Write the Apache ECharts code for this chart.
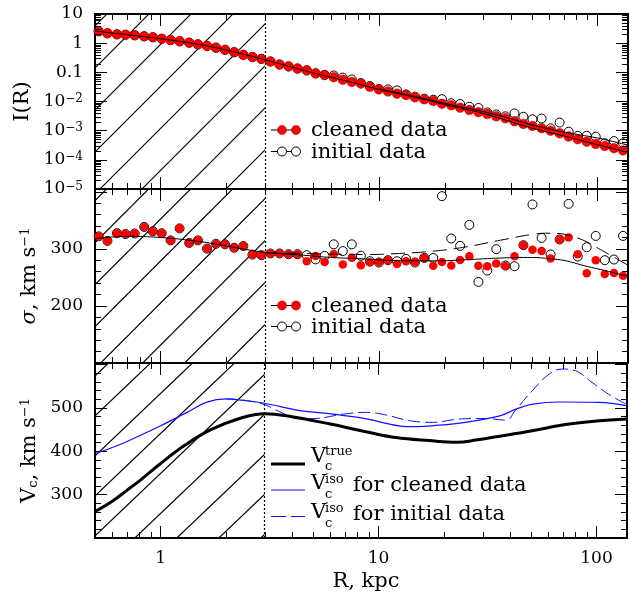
<!DOCTYPE html>
<html>
<head>
<meta charset="utf-8">
<script src="https://cdn.jsdelivr.net/npm/echarts@6/dist/echarts.min.js"></script>
<style>
  html, body { margin: 0; background: #fff; }
  #chart { width: 630px; height: 596px; }
</style>
</head>
<body>
<div id="chart"></div>
<script>
// radii of the profile bins, kpc (same bins in both data panels)
const binR = [0.52, 0.57, 0.63, 0.69, 0.76, 0.84, 0.92, 1.01, 1.11, 1.22,
  1.35, 1.48, 1.63, 1.79, 1.97, 2.17, 2.39, 2.63, 2.89, 3.18,
  3.50, 3.85, 4.23, 4.66, 5.12, 5.63, 6.20, 6.82, 7.50, 8.25,
  9.07, 9.98, 10.98, 12.08, 13.29, 14.6, 16.1, 17.7, 19.4, 21.4,
  23.5, 25.9, 28.5, 31.3, 34.4, 37.9, 41.7, 45.8, 50.4, 55.5,
  61.0, 67.1, 73.8, 81.2, 89.3, 98.2, 108, 119, 131];

// surface brightness I(R)
const iClean = [2.55, 2.18, 2.01, 1.95, 1.86, 1.72, 1.59, 1.42, 1.28, 1.16,
  1.04, 0.91, 0.80, 0.70, 0.59, 0.49, 0.40, 0.335, 0.29, 0.235,
  0.185, 0.16, 0.135, 0.117, 0.092, 0.081, 0.068, 0.056, 0.047, 0.041,
  0.032, 0.026, 0.022, 0.0185, 0.0167, 0.0139, 0.0119, 0.0104, 0.0084, 0.0074,
  0.0061, 0.0051, 0.0043, 0.0037, 0.0031, 0.00265, 0.0021, 0.0017, 0.00145, 0.00121,
  0.0010, 0.00081, 0.00063, 0.00051, 0.00042, 0.00035, 0.00030, 0.00025, 0.00021];
const iInit = [2.55, 2.18, 2.01, 1.95, 1.86, 1.72, 1.59, 1.42, 1.28, 1.16,
  1.04, 0.91, 0.80, 0.70, 0.59, 0.49, 0.40, 0.335, 0.29, 0.235,
  0.185, 0.16, 0.135, 0.117, 0.092, 0.081, 0.078, 0.066, 0.057, 0.043,
  0.034, 0.027, 0.026, 0.024, 0.0175, 0.0146, 0.0125, 0.0115, 0.0120, 0.0087,
  0.0082, 0.0066, 0.0060, 0.0042, 0.0036, 0.0031, 0.0039, 0.0030, 0.00245, 0.0026,
  0.0012, 0.0019, 0.00092, 0.00066, 0.00067, 0.00062, 0.00037, 0.00044, 0.00037];
const iFitCleanR = [0.5, 0.7, 1, 1.5, 2, 3, 4, 5, 7, 10, 15, 20, 30, 50, 70, 100, 138];
const iFitClean = [2.6, 1.95, 1.42, 0.9, 0.58, 0.27, 0.15, 0.095, 0.052, 0.026, 0.0135, 0.0078, 0.0039, 0.00123, 0.00066, 0.00033, 0.00018];
const iFitInitR = [10, 15, 20, 30, 40, 50, 70, 100, 138];
const iFitInit = [0.027, 0.0142, 0.0086, 0.0045, 0.0026, 0.0016, 0.00090, 0.00056, 0.00032];

// velocity dispersion, km/s
const sigClean = [322, 314, 327.5, 326, 327, 338.5, 331, 327.5, 315, 336,
  310.5, 315, 300.5, 309, 308, 302, 305, 290, 289, 292,
  292, 290.7, 290.7, 278.4, 287.5, 277.2, 291, 272.6, 284.5, 271.5,
  276, 277, 280.2, 273.5, 278.5, 277.2, 284.2, 270.5, 277, 271,
  280.5, 287.2, 270.5, 269.6, 274.4, 270, 287.2, 306.5, 298.5, 296.2,
  283.2, 316.5, 320.2, 290.7, 257.4, 280, 255.8, 257.6, 253];
const sigInit = [322, 314, 327.5, 326, 327, 338.5, 331, 327.5, 315, 336,
  310.5, 315, 300.5, 309, 308, 302, 305, 290, 289, 292,
  292, 290.7, 290.7, 289, 281.6, 287.7, 308, 296.2, 308, 288,
  278.4, 276.1, 280.2, 278.4, 282.5, 276.1, 284.2, 284.2, 392.5, 318.2,
  305.3, 342.1, 242.1, 262.1, 299.5, 270.9, 269.6, 306.5, 377.9, 319.3,
  290.2, 316.5, 379, 286.7, 303, 322.8, 280.2, 281.4, 322.8];
const sigFitCleanR = [0.5, 0.7, 1, 1.5, 2, 3, 4.5, 6, 8, 12, 18, 25, 36, 50, 60, 72, 86, 103, 122, 138];
const sigFitClean = [318, 322, 320, 313, 305, 294, 289, 285, 283, 279.5, 279, 281, 284, 285, 283, 279, 271, 264, 257, 252];
const sigFitInitR = [3, 4.4, 6.2, 8.8, 12.4, 17.7, 25, 36, 51, 60, 66, 72, 86, 103, 122, 138];
const sigFitInit = [293, 292, 290.7, 290.2, 292, 296, 303.5, 315.3, 325.8, 327.5, 327, 325, 315.3, 299, 283.2, 271.4];

// circular velocity curves, km/s
const vTrueR = [0.5, 0.6, 0.7, 0.8, 1, 1.3, 1.7, 2.3, 3, 4, 6, 9, 12, 17, 23, 28, 36, 50, 72, 100, 138];
const vTrue = [261, 285, 310, 332, 372, 415, 450, 476, 487, 480, 463, 444, 432, 425, 421, 426, 435, 447, 462, 470, 475];
const vIsoCleanR = [0.5, 0.63, 0.8, 1, 1.32, 1.62, 2, 2.47, 3, 4.35, 6.2, 8.8, 12.4, 15, 17.7, 25, 36, 43, 51, 67, 103, 138];
const vIsoClean = [395, 413, 436, 459, 490, 513, 521, 517, 511, 494, 486, 475, 459, 457, 459, 467, 482, 498, 509, 514, 513, 505];
const vIsoInitR = [2, 2.5, 3, 3.5, 4.35, 5.2, 6.9, 8.8, 10.8, 13.8, 17.7, 23.4, 31, 38.5, 42.6, 50.7, 60.5, 69.6, 80, 95.5, 113.5, 138];
const vIsoInit = [521, 517, 508, 492, 475, 476, 486, 490, 484, 471, 467, 474.6, 476, 472, 496, 540, 578, 590, 586, 559, 532, 508];

// axis ticks
const xMinorTicks = [0.6, 0.7, 0.8, 0.9, 2, 3, 4, 5, 6, 7, 8, 9, 20, 30, 40, 50, 60, 70, 80, 90];
const iMinorTicks = [];
[1e-5, 1e-4, 1e-3, 1e-2, 0.1, 1].forEach(d => [2, 3, 4, 5, 6, 7, 8, 9].forEach(m => iMinorTicks.push(+(d * m).toPrecision(3))));
const sigLabels = [200, 300];
const vLabels = [300, 400, 500];
const hatchEdge = 3; // kpc

const FONT = 'DejaVu Serif';
const zip = (a, b) => a.map((v, i) => [v, b[i]]);

// diagonal hatching tile: lines x/w + y/h = n + phase in page pixels
function hatchCanvas(w, h, phase) {
  const c = document.createElement('canvas');
  c.width = w; c.height = h;
  const ctx = c.getContext('2d');
  ctx.strokeStyle = '#000';
  ctx.lineWidth = 1.15;
  for (let n = -1; n <= 3; n++) {
    const k = n + phase;
    ctx.beginPath();
    ctx.moveTo(-w, h * (k + 1));
    ctx.lineTo(2 * w, h * (k - 2));
    ctx.stroke();
  }
  return c;
}
const hatchTiles = [[42, 42, 0.88], [42, 42, 0.04], [42, 40, 0.66]];

const grids = [
  { left: 95, right: 2, top: 14, height: 175 },
  { left: 95, right: 2, top: 189, height: 174 },
  { left: 95, right: 2, top: 363, height: 175 }
];

function xAxisDef(g, pos, withLabels) {
  return {
    type: 'log', logBase: 10, gridIndex: g, position: pos, min: 0.5, max: 138,
    axisLine: { show: true, lineStyle: { color: '#000', width: 2 } },
    axisTick: { show: true, inside: true, length: 12, lineStyle: { color: '#000', width: 1 } },
    axisLabel: {
      show: withLabels, color: '#000', fontFamily: FONT, fontSize: 17, margin: 12,
      formatter: v => {
        const e = Math.log10(v);
        return Math.abs(e - Math.round(e)) < 1e-6 ? String(Math.round(v)) : '';
      }
    },
    splitLine: { show: false },
    name: withLabels ? 'R, kpc' : '',
    nameLocation: 'middle', nameGap: 33,
    nameTextStyle: { color: '#000', fontFamily: FONT, fontSize: 21, padding: [0, 0, 0, 10] }
  };
}

const richSup = {
  sup: { fontFamily: FONT, fontSize: 13, verticalAlign: 'top', color: '#000' },
  sub: { fontFamily: FONT, fontSize: 13, verticalAlign: 'bottom', color: '#000' },
  it: { fontFamily: FONT, fontSize: 21, fontStyle: 'italic', color: '#000' }
};

function yAxisDef(g, pos, cfg) {
  const left = pos === 'left';
  return Object.assign({
    gridIndex: g, position: pos,
    axisLine: { show: true, lineStyle: { color: '#000', width: 2 } },
    axisTick: { show: true, inside: true, length: 12, lineStyle: { color: '#000', width: 1 } },
    minorTick: { show: cfg.type === 'value', splitNumber: 5, length: 6, lineStyle: { color: '#000', width: 1 } },
    splitLine: { show: false },
    axisLabel: {
      show: left, color: '#000', fontFamily: FONT, fontSize: 17, margin: 12,
      formatter: cfg.fmt,
      rich: { sup: { fontFamily: FONT, fontSize: 12, verticalAlign: 'top', color: '#000' } }
    },
    name: left ? cfg.title : '',
    nameLocation: 'middle', nameGap: 51,
    nameTextStyle: { color: '#000', fontFamily: FONT, fontSize: 21, rich: richSup }
  }, cfg.scale);
}

const iFmt = v => {
  const e = Math.round(Math.log10(v));
  if (e === 1) return '10';
  if (e === 0) return '1';
  if (e === -1) return '0.1';
  return '10{sup|\u2212' + (-e) + '}';
};
const sigFmt = v => (sigLabels.includes(v) ? String(v) : '');
const vFmt = v => (vLabels.includes(v) ? String(v) : '');

const panelY = [
  { type: 'log', title: 'I(R)', fmt: iFmt, scale: { type: 'log', logBase: 10, min: 1e-5, max: 10 } },
  { type: 'value', title: '{it|\u03c3}, km s{sup|\u22121}', fmt: sigFmt, scale: { type: 'value', min: 100, max: 405, interval: 100 } },
  { type: 'value', title: 'V{sub|c}, km s{sup|\u22121}', fmt: vFmt, scale: { type: 'value', min: 200, max: 604, interval: 100 } }
];
const yRefs = [1, 300, 400];

const xAxes = [], yAxes = [];
for (let g = 0; g < 3; g++) {
  xAxes.push(xAxisDef(g, 'bottom', g === 2));
  xAxes.push(xAxisDef(g, 'top', false));
  yAxes.push(yAxisDef(g, 'left', panelY[g]));
  yAxes.push(yAxisDef(g, 'right', panelY[g]));
}

const series = [];
const ax = g => ({ xAxisIndex: 2 * g, yAxisIndex: 2 * g });

for (let g = 0; g < 3; g++) {
  const yRef = yRefs[g];
  const t = hatchTiles[g];
  // hatched region and dotted boundary
  series.push(Object.assign({
    type: 'line', data: [[hatchEdge, yRef]], showSymbol: false, lineStyle: { opacity: 0 }, z: 1, silent: true,
    markArea: {
      silent: true,
      itemStyle: { color: { image: hatchCanvas(t[0], t[1], t[2]), repeat: 'repeat' }, borderWidth: 0 },
      data: [[{ xAxis: 0.5 }, { xAxis: hatchEdge }]]
    },
    markLine: {
      silent: true, symbol: 'none', label: { show: false },
      lineStyle: { color: '#000', width: 1.2, type: [2, 2] },
      data: [{ xAxis: hatchEdge }]
    }
  }, ax(g)));
  // minor ticks on the log x axes
  series.push(Object.assign({
    type: 'custom', silent: true, clip: false, z: 6,
    data: xMinorTicks.map(v => [v, yRef]),
    renderItem: (params, api) => {
      const x = Math.round(api.coord([api.value(0), yRef])[0]) + 0.5;
      const cs = params.coordSys;
      return { type: 'group', children: [
        { type: 'line', shape: { x1: x, y1: cs.y, x2: x, y2: cs.y + 6 }, style: { stroke: '#000', lineWidth: 1 } },
        { type: 'line', shape: { x1: x, y1: cs.y + cs.height, x2: x, y2: cs.y + cs.height - 6 }, style: { stroke: '#000', lineWidth: 1 } }
      ] };
    }
  }, ax(g)));
}

// minor ticks on the log I(R) axis
series.push(Object.assign({
  type: 'custom', silent: true, clip: false, z: 6,
  data: iMinorTicks.map(v => [1, v]),
  renderItem: (params, api) => {
    const y = Math.round(api.coord([1, api.value(1)])[1]) + 0.5;
    const cs = params.coordSys;
    return { type: 'group', children: [
      { type: 'line', shape: { x1: cs.x, y1: y, x2: cs.x + 6, y2: y }, style: { stroke: '#000', lineWidth: 1 } },
      { type: 'line', shape: { x1: cs.x + cs.width, y1: y, x2: cs.x + cs.width - 6, y2: y }, style: { stroke: '#000', lineWidth: 1 } }
    ] };
  }
}, ax(0)));

const openDot = { color: 'rgba(0,0,0,0)', borderColor: '#000', borderWidth: 1, opacity: 1 };
const redDot = { color: '#ff0000', borderColor: '#b00000', borderWidth: 0.6, opacity: 1 };

// panel 1: I(R)
series.push(Object.assign({ type: 'scatter', name: 'initial data', data: zip(binR, iInit), symbolSize: 9, itemStyle: openDot, z: 3 }, ax(0)));
series.push(Object.assign({ type: 'scatter', name: 'cleaned data', data: zip(binR, iClean), symbolSize: 9.5, itemStyle: redDot, z: 4 }, ax(0)));
series.push(Object.assign({ type: 'line', data: zip(iFitInitR, iFitInit), smooth: 0.4, showSymbol: false, lineStyle: { color: '#000', width: 1 }, z: 5 }, ax(0)));
series.push(Object.assign({ type: 'line', data: zip(iFitCleanR, iFitClean), smooth: 0.4, showSymbol: false, lineStyle: { color: '#000', width: 1 }, z: 5 }, ax(0)));

// panel 2: sigma
series.push(Object.assign({ type: 'scatter', data: zip(binR, sigInit), symbolSize: 9, itemStyle: openDot, z: 3 }, ax(1)));
series.push(Object.assign({ type: 'scatter', data: zip(binR, sigClean), symbolSize: 8.5, itemStyle: { color: '#ff0000', borderWidth: 0, opacity: 1 }, z: 4 }, ax(1)));
series.push(Object.assign({ type: 'line', data: zip(sigFitInitR, sigFitInit), smooth: 0.4, showSymbol: false, lineStyle: { color: '#000', width: 1, type: [14, 7] }, z: 5 }, ax(1)));
series.push(Object.assign({ type: 'line', data: zip(sigFitCleanR, sigFitClean), smooth: 0.4, showSymbol: false, lineStyle: { color: '#000', width: 1 }, z: 5 }, ax(1)));

// panel 3: circular velocity
series.push(Object.assign({ type: 'line', data: zip(vIsoInitR, vIsoInit), smooth: 0.4, showSymbol: false, lineStyle: { color: '#1010ff', width: 1, type: [12, 5] }, z: 4 }, ax(2)));
series.push(Object.assign({ type: 'line', data: zip(vIsoCleanR, vIsoClean), smooth: 0.4, showSymbol: false, lineStyle: { color: '#1010ff', width: 1.2 }, z: 4 }, ax(2)));
series.push(Object.assign({ type: 'line', data: zip(vTrueR, vTrue), smooth: 0.4, showSymbol: false, lineStyle: { color: '#000', width: 3 }, z: 5 }, ax(2)));

// hand-made legends
const txt = (text, x, y, size) => ({
  type: 'text', x: x, y: y, z: 20,
  style: { text: text, fill: '#000', font: size + 'px "' + FONT + '"', verticalAlign: 'middle' }
});
const lineEl = (x1, x2, y, style) => ({ type: 'line', z: 20, shape: { x1: x1, y1: y, x2: x2, y2: y }, style: Object.assign({ stroke: '#000', lineWidth: 1 }, style) });
const dot = (cx, cy, filled) => ({
  type: 'circle', z: 21, shape: { cx: cx, cy: cy, r: 4.5 },
  style: filled ? { fill: '#ff0000', stroke: '#b00000', lineWidth: 0.6 } : { fill: '#fff', stroke: '#000', lineWidth: 1 }
});
function dataLegend(y1, y2) {
  return [
    lineEl(271, 296, y1), dot(282, y1, true), dot(296, y1, true), txt('cleaned data', 311, y1 + 1, 21),
    lineEl(271, 296, y2), dot(282, y2, false), dot(296, y2, false), txt('initial data', 311, y2 + 1, 21)
  ];
}
const graphic = [].concat(
  dataLegend(130, 151.5),
  dataLegend(305.5, 326.5),
  [
    lineEl(271, 305, 464, { lineWidth: 3 }),
    txt('V', 311, 457, 21), txt('true', 325, 452, 13), txt('c', 325, 467, 13),
    lineEl(271, 305, 490, { stroke: '#1010ff', lineWidth: 1.2 }),
    txt('V', 311, 484, 21), txt('iso', 325, 480, 13), txt('c', 325, 495, 13), txt('for cleaned data', 353, 486, 21),
    lineEl(271, 305, 516.5, { stroke: '#1010ff', lineWidth: 1, lineDash: [15, 5] }),
    txt('V', 311, 513, 21), txt('iso', 325, 509, 13), txt('c', 325, 524, 13), txt('for initial data', 353, 515, 21)
  ]
);

const chart = echarts.init(document.getElementById('chart'));
chart.setOption({
  animation: false,
  backgroundColor: '#fff',
  textStyle: { fontFamily: FONT },
  grid: grids,
  xAxis: xAxes,
  yAxis: yAxes,
  series: series,
  graphic: graphic
});
</script>
</body>
</html>
